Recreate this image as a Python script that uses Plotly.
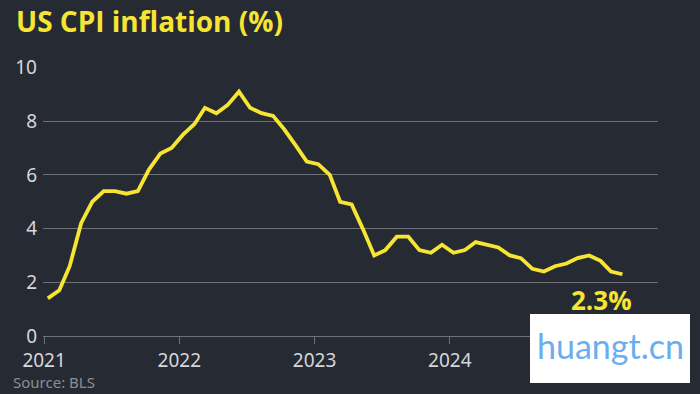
import pandas as pd
import plotly.graph_objects as go

# US CPI year-on-year inflation (%), monthly, Jan 2021 - Apr 2025
cpi_values = [
    1.4, 1.7, 2.6, 4.2, 5.0, 5.4, 5.4, 5.3, 5.4, 6.2, 6.8, 7.0,   # 2021
    7.5, 7.9, 8.5, 8.3, 8.6, 9.1, 8.5, 8.3, 8.2, 7.7, 7.1, 6.5,   # 2022
    6.4, 6.0, 5.0, 4.9, 4.0, 3.0, 3.2, 3.7, 3.7, 3.2, 3.1, 3.4,   # 2023
    3.1, 3.2, 3.5, 3.4, 3.3, 3.0, 2.9, 2.5, 2.4, 2.6, 2.7, 2.9,   # 2024
    3.0, 2.8, 2.4, 2.3,                                           # 2025
]
months = pd.date_range(start="2021-01-01", periods=len(cpi_values), freq="MS") + pd.Timedelta(days=10)
year_ticks = ["2021-01-01", "2022-01-01", "2023-01-01", "2024-01-01"]
year_labels = ["2021", "2022", "2023", "2024"]
y_ticks = [0, 2, 4, 6, 8, 10]
last_label = "2.3%"

BG = "#262a33"
YELLOW = "#f6e532"
GRID = "#6f7179"
TICKTXT = "#d6d7db"
FONT = "Noto Sans"

fig = go.Figure()
fig.add_trace(go.Scatter(
    x=months, y=cpi_values, mode="lines",
    line=dict(color=YELLOW, width=3.8),
    hoverinfo="skip", showlegend=False,
))

fig.update_layout(
    width=700, height=394,
    paper_bgcolor=BG, plot_bgcolor=BG,
    margin=dict(l=43, r=42, t=67, b=58),
    title=dict(
        text="<b>US CPI inflation (%)</b>",
        x=16 / 700, xref="container", xanchor="left",
        y=1 - 22 / 394, yref="container", yanchor="middle",
        font=dict(family="Open Sans", size=28, color=YELLOW),
    ),
    xaxis=dict(
        range=["2020-12-29", "2025-07-16"],
        tickmode="array", tickvals=year_ticks, ticktext=year_labels,
        showgrid=False, zeroline=False,
        showline=True, linecolor=GRID, linewidth=1.2,
        ticks="outside", ticklen=7, tickcolor=GRID, tickwidth=1.2,
        tickfont=dict(family=FONT, size=19, color=TICKTXT),
    ),
    yaxis=dict(
        range=[0, 10.02],
        tickmode="array", tickvals=y_ticks,
        showgrid=True, gridcolor=GRID, gridwidth=1.2,
        zeroline=False, showline=False, ticks="",
        ticklabelstandoff=5,
        tickfont=dict(family=FONT, size=19, color=TICKTXT),
    ),
)

fig.add_annotation(
    x=months[-1], y=1.34, xref="x", yref="y",
    text="<b>" + last_label + "</b>", showarrow=False,
    xanchor="right", yanchor="middle", xshift=12,
    font=dict(family="Open Sans", size=26, color=YELLOW),
)

fig.add_annotation(
    x=(11 - 43) / 615, y=(336 - 382) / 269, xref="paper", yref="paper",
    text="Source: BLS", showarrow=False, xanchor="left", yanchor="middle",
    font=dict(family=FONT, size=15, color="#8b8e95"),
)

# watermark overlay seen in the reference
fig.add_shape(
    type="rect", xref="paper", yref="paper", layer="above",
    x0=(530 - 43) / 615, x1=(690 - 43) / 615,
    y0=(336 - 383) / 269, y1=(336 - 314) / 269,
    fillcolor="white", line=dict(width=0),
)
fig.add_annotation(
    x=(610 - 43) / 615, y=(336 - 345) / 269, xref="paper", yref="paper",
    text="huangt.cn", showarrow=False, xanchor="center", yanchor="middle",
    font=dict(family="Lato", size=34, color="#6aaef0"),
)

fig.write_html(
    "out.html",
    config={"displayModeBar": False},
    post_script="document.body.style.margin='0';",
)
